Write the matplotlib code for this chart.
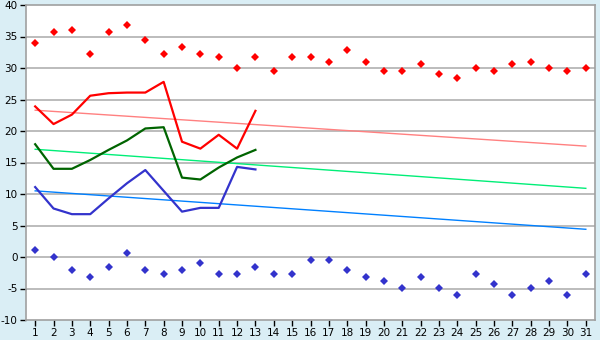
import matplotlib.pyplot as plt
import numpy as np

plt.rcParams['axes.unicode_minus'] = False

days = np.arange(1, 32)
max_pts = [33.9, 35.7, 36.1, 32.2, 35.7, 36.8, 34.4, 32.2, 33.3, 32.2,
           31.7, 30.0, 31.7, 29.5, 31.7, 31.7, 31.0, 32.8, 31.0, 29.5,
           29.5, 30.6, 29.0, 28.4, 30.0, 29.5, 30.6, 31.0, 30.0, 29.5, 30.0]
min_pts = [1.1, 0.0, -2.1, -3.2, -1.6, 0.6, -2.1, -2.7, -2.1, -1.0,
           -2.7, -2.7, -1.6, -2.7, -2.7, -0.5, -0.5, -2.1, -3.2, -3.8,
           -4.9, -3.2, -4.9, -6.0, -2.7, -4.3, -6.0, -4.9, -3.8, -6.0, -2.7]

line_days = np.arange(1, 14)
red_line = [23.9, 21.1, 22.6, 25.6, 26.0, 26.1, 26.1, 27.8, 18.3, 17.2, 19.4, 17.2, 23.2]
green_line = [17.9, 14.0, 14.0, 15.4, 17.0, 18.5, 20.4, 20.6, 12.6, 12.3, 14.2, 15.8, 17.0]
blue_line = [11.1, 7.7, 6.8, 6.8, 9.3, 11.7, 13.8, 10.5, 7.2, 7.8, 7.8, 14.3, 13.9]

# trend lines: value on day 1 and day 31
trend_red = [23.3, 17.6]
trend_green = [17.1, 10.9]
trend_blue = [10.5, 4.4]

bg = '#daeef5'
fig = plt.figure(figsize=(6, 3.4), dpi=100, facecolor=bg)
ax = fig.add_axes([26/600, 1-320/340, 569/600, 315/340])
ax.set_facecolor('white')

for y in range(-5, 40, 5):
    ax.axhline(y, color='#b0b0b0', lw=1.2, zorder=1)

ends = [1, 31]
ax.plot(ends, trend_red, color='#ff8080', lw=1, zorder=2)
ax.plot(ends, trend_green, color='#00ee77', lw=1, zorder=2)
ax.plot(ends, trend_blue, color='#0080ff', lw=1, zorder=2)

ax.plot(line_days, red_line, color='#ff0000', lw=1.6, zorder=3)
ax.plot(line_days, green_line, color='#006400', lw=1.6, zorder=3)
ax.plot(line_days, blue_line, color='#3333cc', lw=1.6, zorder=3)

ax.plot(days, max_pts, 'D', color='#ff0000', ms=3.8, mew=0, zorder=4)
ax.plot(days, min_pts, 'D', color='#3333cc', ms=3.8, mew=0, zorder=4)

ax.set_xlim(0.5, 31.5)
ax.set_ylim(-10, 40)
ax.set_xticks(days)
ax.set_yticks(np.arange(-10, 41, 5))
ax.tick_params(labelsize=7.5, length=4, color='#000000', width=1, pad=2)
for s in ax.spines.values():
    s.set_color('#a0a0a0')
    s.set_linewidth(1.2)

plt.savefig('out.png', dpi=100, facecolor=bg)
